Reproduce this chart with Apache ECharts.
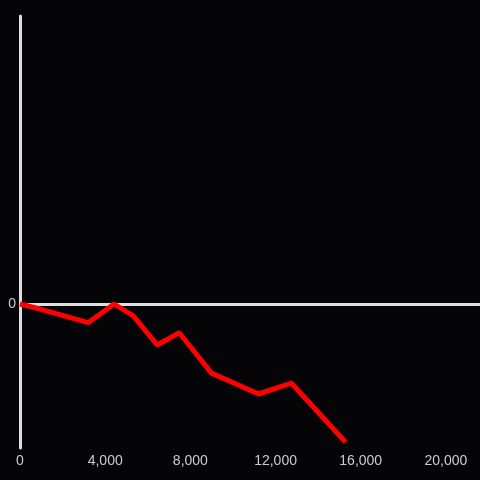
<!DOCTYPE html>
<html><head><meta charset="utf-8">
<style>html,body{margin:0;padding:0;background:#050407;}#c{width:480px;height:480px;}</style>
<script src="https://cdn.jsdelivr.net/npm/echarts@6/dist/echarts.min.js"></script>
</head><body><div id="c"></div>
<script>
const xValues = [0, 940, 3200, 4420, 5320, 6450, 7480, 8990, 11200, 12750, 15290];
const yValues = [0, -0.035, -0.13, 0, -0.083, -0.285, -0.2, -0.48, -0.625, -0.55, -0.96];
const xTicks = [0, 4000, 8000, 12000, 16000, 20000];

const chart = echarts.init(document.getElementById('c'));
const data = xValues.map((x, i) => [x, yValues[i]]);
chart.setOption({
  backgroundColor: '#050407',
  animation: false,
  grid: {left: 20, right: 0, top: 16, bottom: 32, containLabel: false},
  xAxis: {
    type: 'value', min: 0, max: 21600, interval: 4000,
    axisLine: {show: false}, axisTick: {show: false}, splitLine: {show: false},
    axisLabel: {color: '#cccccc', fontSize: 14, margin: 6, showMaxLabel: false,
      formatter: v => xTicks.includes(v) ? v.toLocaleString('en-US') : ''}
  },
  yAxis: {
    type: 'value', min: -1, max: 2, interval: 1,
    axisLine: {show: true, lineStyle: {color: '#dddddd', width: 3}},
    axisTick: {show: false}, splitLine: {show: false},
    axisLabel: {color: '#cccccc', fontSize: 14, margin: 4, formatter: v => v === 0 ? '0' : ''}
  },
  series: [{
    type: 'line', data: [], z: 1, silent: true,
    markLine: {
      silent: true, symbol: 'none', animation: false,
      label: {show: false},
      lineStyle: {color: '#dddddd', width: 3, type: 'solid'},
      data: [{yAxis: 0}]
    }
  }, {
    type: 'line', data: data, showSymbol: false, symbol: 'none',
    lineStyle: {color: '#ff0000', width: 5}, z: 5
  }]
});
</script></body></html>
